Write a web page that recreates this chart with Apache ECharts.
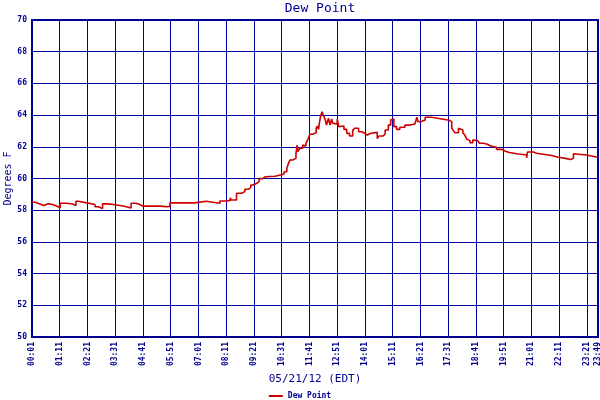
<!DOCTYPE html>
<html>
<head>
<meta charset="utf-8">
<script src="https://cdn.jsdelivr.net/npm/echarts@6/dist/echarts.min.js"></script>
<style>html,body{margin:0;padding:0;background:#fff}#c{width:600px;height:400px}</style>
</head>
<body>
<div id="c"></div>
<script>
// minutes after 00:01 on 05/21/12 (EDT)
const times = [0,8,20,29,41,52,62,71,87,103,111,117,138,159,167,178,193,205,230,250,262,272,279,281,290,292,323,327,331,335,339,343,348,403,405,408,411,439,474,491,500,503,516,529,537,546,552,558,567,573,582,588,613,630,636,643,647,651,658,666,669,671,673,676,683,686,691,696,701,708,717,720,723,725,728,732,735,740,743,748,752,756,759,764,770,774,777,787,794,801,809,814,824,832,840,846,855,871,876,885,891,899,905,910,913,920,928,941,954,966,971,974,981,992,1008,1012,1034,1053,1059,1063,1067,1076,1080,1087,1092,1097,1101,1105,1112,1115,1124,1129,1139,1149,1157,1172,1185,1193,1204,1223,1248,1250,1265,1273,1290,1311,1328,1346,1349,1359,1362,1366,1367,1399,1404,1408,1428];
const dewPoint = [58.50,58.39,58.29,58.40,58.36,58.26,58.16,58.44,58.39,58.29,58.56,58.46,58.36,58.22,58.10,58.40,58.36,58.26,58.14,58.44,58.36,58.26,58.36,58.26,58.30,58.26,58.16,58.24,58.12,58.22,58.12,58.24,58.46,58.52,58.40,58.46,58.56,58.44,58.58,58.62,58.78,58.64,59.07,59.17,59.32,59.44,59.59,59.70,59.82,59.99,60.11,60.14,60.24,60.28,60.43,60.64,60.95,61.17,61.27,61.59,62.11,61.70,61.80,61.91,62.11,62.05,62.22,62.47,62.79,62.89,63.17,63.31,63.10,63.48,63.94,64.21,64.00,63.69,63.37,63.80,63.37,63.75,63.48,63.44,63.75,63.27,63.31,63.10,62.85,62.68,63.02,63.17,62.95,62.85,62.74,62.85,62.91,62.53,62.68,62.80,63.06,63.37,63.69,63.75,63.27,63.10,63.23,63.37,63.44,63.48,63.86,63.58,63.69,63.86,63.80,63.75,63.67,63.58,63.17,63.02,62.89,63.17,63.06,62.89,62.74,62.47,62.39,62.26,62.43,62.39,62.33,62.22,62.16,62.05,61.97,61.84,61.74,61.64,61.56,61.48,61.30,61.67,61.59,61.53,61.45,61.34,61.27,61.17,61.20,61.17,61.27,61.56,61.48,61.38,61.43,61.34,61.34];
const yTicks = [50,52,54,56,58,60,62,64,66,68,70];
const startMinute = 1;
const title = 'Dew Point';
const xName = '05/21/12 (EDT)';
const yName = 'Degrees F';

const navy = '#000090';
const gridBlue = '#00009c';
const mono = 'DejaVu Sans Mono';
function fmt(v){
  const t = Math.round(v) + startMinute;
  const h = Math.floor(t/60), m = t%60;
  return String(h).padStart(2,'0') + ':' + String(m).padStart(2,'0');
}
const chart = echarts.init(document.getElementById('c'), null, {renderer:'canvas'});
chart.setOption({
  animation:false,
  backgroundColor:'#ffffff',
  title:{text:title,left:315,textAlign:'center',top:-3,textStyle:{color:navy,fontFamily:mono,fontSize:13,fontWeight:'normal'}},
  legend:{data:[title],bottom:-5,left:'center',icon:'rect',itemWidth:14,itemHeight:2,itemGap:4,
    textStyle:{color:navy,fontFamily:mono,fontSize:8,fontWeight:'bold'}},
  grid:{left:32,right:2,top:20,bottom:63,show:true,borderColor:navy,borderWidth:2,outerBoundsMode:'none',containLabel:false},
  xAxis:{type:'value',min:0,max:times[times.length-1],interval:70,
    name:xName,nameLocation:'middle',nameGap:35,
    nameTextStyle:{color:navy,fontFamily:mono,fontSize:11},
    axisLine:{show:true,lineStyle:{color:navy,width:2}},
    axisTick:{show:false},
    axisLabel:{rotate:90,color:navy,fontFamily:mono,fontSize:8,fontWeight:'bold',margin:5,showMaxLabel:true,showMinLabel:true,formatter:fmt,hideOverlap:false},
    splitLine:{show:true,lineStyle:{color:gridBlue,width:1}}},
  yAxis:{type:'value',min:yTicks[0],max:yTicks[yTicks.length-1],interval:2,
    name:yName,nameLocation:'middle',nameGap:19,nameRotate:90,nameMoveOverlap:false,
    nameTextStyle:{color:navy,fontFamily:mono,fontSize:10},
    axisLine:{show:true,lineStyle:{color:navy,width:2}},
    axisTick:{show:false},
    axisLabel:{color:navy,fontFamily:mono,fontSize:8,fontWeight:'bold',margin:5},
    splitLine:{show:true,lineStyle:{color:gridBlue,width:1}}},
  series:[{name:title,type:'line',step:'end',showSymbol:false,symbol:'none',
    itemStyle:{color:'#cc0000'},
    lineStyle:{color:'#cc0000',width:1.6},
    data:times.map((t,i)=>[t,dewPoint[i]])}]
});
</script>
</body>
</html>
